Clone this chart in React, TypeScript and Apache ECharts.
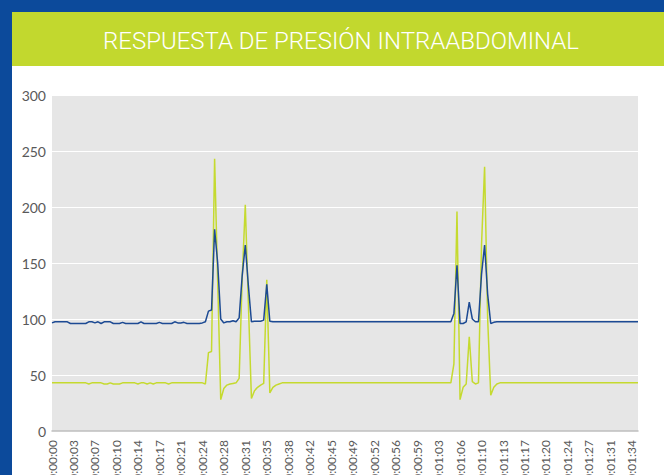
import React, { useEffect, useRef } from "react";
import * as echarts from "echarts";

const TITLE = "RESPUESTA DE PRESIÓN INTRAABDOMINAL";
const SAMPLE_SECONDS = 0.5;

// Green series (presión) sampled every 0.5 s
const GREEN_VALUES = [
  43, 43, 43, 43, 43, 43, 43, 43, 43, 43, 43, 43, 42, 43, 43, 43,
  43, 42, 42, 43, 42, 42, 42, 43, 43, 43, 43, 43, 42, 43, 43, 42,
  43, 42, 43, 43, 43, 43, 42, 43, 43, 43, 43, 43, 43, 43, 43, 43,
  43, 43, 42, 70, 71, 243, 134, 28, 38, 41, 42, 42.5, 43, 47, 137, 202,
  114, 29, 36, 39, 41, 42.5, 135, 34, 39, 41, 42, 43, 43, 43, 43, 43,
  43, 43, 43, 43, 43, 43, 43, 43, 43, 43, 43, 43, 43, 43, 43, 43,
  43, 43, 43, 43, 43, 43, 43, 43, 43, 43, 43, 43, 43, 43, 43, 43,
  43, 43, 43, 43, 43, 43, 43, 43, 43, 43, 43, 43, 43, 43, 43, 43,
  43, 43, 43, 60, 196, 28, 39, 42, 84, 44, 42, 43, 166, 236, 100, 32,
  39, 42, 43, 43, 43, 43, 43, 43, 43, 43, 43, 43, 43, 43, 43, 43,
  43, 43, 43, 43, 43, 43, 43, 43, 43, 43, 43, 43, 43, 43, 43, 43,
  43, 43, 43, 43, 43, 43, 43, 43, 43, 43, 43, 43, 43, 43, 43, 43,
];

// Blue series sampled every 0.5 s
const BLUE_VALUES = [
  96.5, 97.5, 97.5, 97.5, 97.5, 97.5, 96, 96, 96, 96, 96, 96, 97.5, 97.5, 96.5, 97.5,
  96, 97.5, 97.5, 97.5, 96, 96, 96, 97, 96, 96, 96, 96, 96, 97.5, 96, 96,
  96, 96, 96, 97, 96, 96, 96, 96, 97.5, 96.5, 96.5, 97, 96, 96, 96, 96,
  96, 96.5, 97.5, 107, 108, 180, 150, 100, 96.5, 97.5, 97.5, 98.5, 97.5, 101, 139, 166,
  130, 97.5, 98, 98, 98, 99, 131, 98, 97.5, 97.5, 97.5, 97.5, 97.5, 97.5, 97.5, 97.5,
  97.5, 97.5, 97.5, 97.5, 97.5, 97.5, 97.5, 97.5, 97.5, 97.5, 97.5, 97.5, 97.5, 97.5, 97.5, 97.5,
  97.5, 97.5, 97.5, 97.5, 97.5, 97.5, 97.5, 97.5, 97.5, 97.5, 97.5, 97.5, 97.5, 97.5, 97.5, 97.5,
  97.5, 97.5, 97.5, 97.5, 97.5, 97.5, 97.5, 97.5, 97.5, 97.5, 97.5, 97.5, 97.5, 97.5, 97.5, 97.5,
  97.5, 97.5, 97.5, 105, 148, 96, 96, 97.5, 115, 100, 97.5, 97.5, 140, 166, 122, 96,
  97, 97.5, 97.5, 97.5, 97.5, 97.5, 97.5, 97.5, 97.5, 97.5, 97.5, 97.5, 97.5, 97.5, 97.5, 97.5,
  97.5, 97.5, 97.5, 97.5, 97.5, 97.5, 97.5, 97.5, 97.5, 97.5, 97.5, 97.5, 97.5, 97.5, 97.5, 97.5,
  97.5, 97.5, 97.5, 97.5, 97.5, 97.5, 97.5, 97.5, 97.5, 97.5, 97.5, 97.5, 97.5, 97.5, 97.5, 97.5,
];

const pad2 = (n: number) => String(n).padStart(2, "0");
const toClock = (sec: number) => {
  const s = Math.floor(sec);
  return `${pad2(Math.floor(s / 3600))}:${pad2(Math.floor((s % 3600) / 60))}:${pad2(s % 60)}`;
};
// time stamps of the samples (x-axis categories)
const CATEGORIES = GREEN_VALUES.map((_, i) => toClock(i * SAMPLE_SECONDS));

const Y_MIN = 0;
const Y_MAX = 300;
const Y_STEP = 50;
const LABEL_EVERY = 7;

export default function App() {
  const ref = useRef<HTMLDivElement>(null);

  useEffect(() => {
    if (!ref.current) return;
    const chart = echarts.init(ref.current, undefined, { renderer: "svg" });
    chart.setOption({
      animation: false,
      backgroundColor: "transparent",
      graphic: [
        {
          type: "text",
          x: 341,
          y: 41,
          style: {
            text: TITLE,
            fill: "#ffffff",
            fontSize: 24,
            fontFamily: "Roboto",
            fontWeight: 300,
            align: "center",
            verticalAlign: "middle",
            textAlign: "center",
            textVerticalAlign: "middle",
          },
        },
      ],
      grid: {
        left: 52,
        right: 26,
        top: 95,
        bottom: 44,
        show: true,
        backgroundColor: "#e6e6e6",
        borderWidth: 0,
        containLabel: false,
        outerBoundsMode: "none",
      },
      xAxis: {
        type: "category",
        data: CATEGORIES,
        boundaryGap: false,
        axisLine: { show: true, lineStyle: { color: "#bfbfbf", width: 1.5 } },
        axisTick: { show: false },
        splitLine: { show: false },
        axisLabel: {
          interval: LABEL_EVERY - 1,
          rotate: 90,
          margin: 9,
          color: "#595959",
          fontSize: 12,
          fontFamily: "Lato",
          padding: [8, 0, 0, 0],
        },
      },
      yAxis: {
        type: "value",
        min: Y_MIN,
        max: Y_MAX,
        interval: Y_STEP,
        axisLine: { show: false },
        axisTick: { show: false },
        splitLine: { show: true, lineStyle: { color: "#ffffff", width: 1 } },
        axisLabel: {
          margin: 6,
          color: "#595959",
          fontSize: 14,
          fontFamily: "Lato",
        },
      },
      series: [
        {
          type: "line",
          data: GREEN_VALUES,
          showSymbol: false,
          symbol: "none",
          lineStyle: { color: "#c5da2f", width: 1.5 },
          z: 2,
        },
        {
          type: "line",
          data: BLUE_VALUES,
          showSymbol: false,
          symbol: "none",
          lineStyle: { color: "#1d4a93", width: 1.5 },
          z: 3,
        },
      ],
    });
    return () => chart.dispose();
  }, []);

  return (
    <div
      style={{
        position: "fixed",
        left: 0,
        top: 0,
        width: 664,
        height: 475,
        background: "#0c4a9b",
        overflow: "hidden",
      }}
    >
      <div style={{ position: "absolute", left: 12, top: 12, right: 0, bottom: 0, background: "#ffffff" }} />
      <div style={{ position: "absolute", left: 12, top: 12, right: 0, height: 54, background: "#c2d82e" }} />
      <div ref={ref} style={{ position: "absolute", left: 0, top: 0, width: 664, height: 475 }} />
    </div>
  );
}
